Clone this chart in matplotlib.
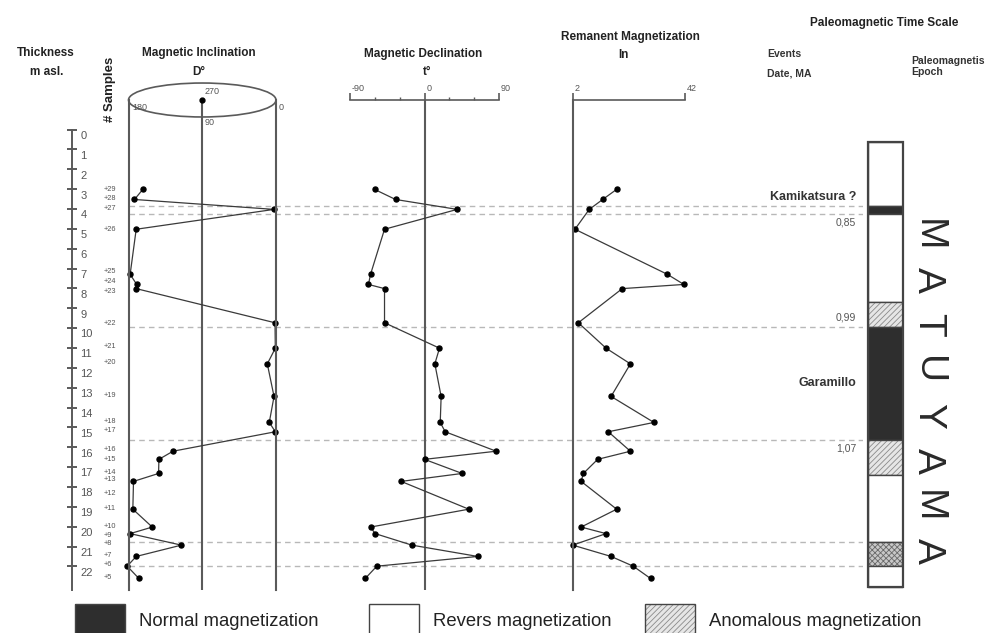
import numpy as np
import matplotlib
matplotlib.use("Agg")
import matplotlib.pyplot as plt
from matplotlib.patches import Ellipse, Rectangle
from matplotlib.transforms import blended_transform_factory

plt.rcParams['font.family'] = ['Liberation Sans', 'DejaVu Sans']
plt.rcParams['hatch.linewidth'] = 0.6

# ---- data (depth in m) ----
sample_no = [29, 28, 27, 26, 25, 24, 23, 22, 21, 20, 19, 18, 17, 16, 15,
             14, 13, 12, 11, 10, 9, 8, 7, 6, 5]
depth = [2.74, 3.25, 3.75, 4.75, 7.02, 7.53, 7.74, 9.46, 10.74, 11.53, 13.17,
         14.48, 14.95, 15.93, 16.34, 17.05, 17.45, 18.13, 18.85, 19.75,
         20.08, 20.66, 21.23, 21.72, 22.34]
# where the "+n" sample labels sit (they are spread a little where crowded)
label_depth = [2.74, 3.22, 3.69, 4.75, 6.88, 7.36, 7.89, 9.48, 10.67, 11.47,
               13.13, 14.44, 14.91, 15.83, 16.34, 16.99, 17.35, 18.08, 18.81,
               19.73, 20.15, 20.60, 21.18, 21.66, 22.28]
nan = np.nan
inclination = [162.5, 172.7, 2.4, 170.6, 178, 170, 170.6, 1.2, 0.8, 10.6, 2.4,
               8.2, 0.8, 125.7, 142.9, 143.3, 173.9, nan, 174.7, 151, 178,
               115.5, 170.6, 181.6, 167.3]
declination = [-60.4, -35, 39.5, -48.3, -65.2, -67.7, -48.3, -48.3, 18.1,
               12.5, 20.1, 19, 25, 86.6, 0, 45.5, -28.2, nan, 53.5, -65.2,
               -59.6, -15.3, 64.4, -57.6, -71.6]
remanent = [17.6, 12.6, 7.8, 2.7, 35.7, 41.6, 19.6, 3.9, 13.8, 22.5, 15.6,
            30.9, 14.6, 22.5, 10.8, 5.7, 4.9, nan, 17.6, 4.9, 13.8, 1.9,
            15.6, 23.5, 29.7]

depth_labels = list(range(0, 23))
depth_ticks = [k - 0.27 for k in range(0, 23)]

# paleomagnetic column
col_bounds = [0.34, 3.6, 4.0, 8.42, 9.68, 15.38, 17.14, 20.5, 21.7, 22.78]
col_polarity = ['R', 'N', 'R', 'A', 'N', 'A', 'R', 'X', 'R']
event_lines = [3.6, 4.0, 9.68, 15.38, 20.5, 21.7]
event_names = ['Kamikatsura ?', 'Garamillo']
event_name_depth = [3.12, 12.49]
event_dates = ['0,85', '0,99', '1,07']
event_date_depth = [4.43, 9.22, 15.77]
epoch_name = 'MATUYAMA'

W, H = 997, 633
TOP, BOT = 100, 590          # pixel rows of panel top / bottom
D_TOP, D_BOT = -1.76, 22.92  # depth at those rows


def fx(px):
    return px / W


def fy(py):
    return 1 - py / H


fig = plt.figure(figsize=(W / 100, H / 100), dpi=100)


def panel(x0, x1, z=2):
    ax = fig.add_axes([fx(x0), fy(BOT), (x1 - x0) / W, (BOT - TOP) / H])
    ax.set_ylim(D_BOT, D_TOP)
    ax.patch.set_alpha(0)
    for s in ax.spines.values():
        s.set_visible(False)
    ax.set_xticks([])
    ax.set_yticks([])
    ax.set_zorder(z)
    return ax


LINE = '#5a5a5a'
DATA = '#3a3a3a'
TXT = '#222222'
GRAY = '#555555'

# dashed event lines behind everything
ax_bg = panel(128.5, 863, z=0)
ax_bg.set_xlim(0, 1)
ax_bg.hlines(event_lines, 0, 1, colors='#b8b8b8', linestyles=(0, (4, 3)), lw=1)

# depth scale
ax_d = panel(40, 72)
ax_d.spines['right'].set_visible(True)
ax_d.spines['right'].set_bounds(depth_ticks[0], D_BOT)
ax_d.spines['right'].set_color(LINE)
ax_d.spines['right'].set_linewidth(1.4)
ax_d.set_yticks(depth_ticks)
ax_d.set_yticks(depth_labels, labels=[str(v) for v in depth_labels], minor=True)
ax_d.tick_params(axis='y', which='major', direction='inout', length=7, width=1.4,
                 color=LINE, left=False, right=True, labelleft=False, labelright=False)
ax_d.tick_params(axis='y', which='minor', length=0, left=False, right=True,
                 labelleft=False, labelright=True, pad=6, labelsize=8, labelcolor=GRAY)

# inclination
ax_inc = panel(128.5, 276)
ax_inc.set_xlim(180, 0)
for s in ('left', 'right'):
    ax_inc.spines[s].set_visible(True)
    ax_inc.spines[s].set_color(LINE)
    ax_inc.spines[s].set_linewidth(1.5)
ax_inc.axvline(90, color=LINE, lw=1.5)
ax_inc.add_patch(Ellipse((90, D_TOP), 180, 1.71, fill=False, ec=LINE, lw=1.2,
                         clip_on=False))
ax_inc.plot([90], [D_TOP], 'o', color='k', ms=3.5, clip_on=False)
fig.text(fx(132), fy(107), '180', fontsize=6.5, color=GRAY, va='center')
fig.text(fx(205), fy(92), '270', fontsize=6.5, color=GRAY, va='center')
fig.text(fx(279), fy(107), '0', fontsize=6.5, color=GRAY, va='center')
fig.text(fx(205), fy(122), '90', fontsize=6.5, color=GRAY, va='center')

dep = np.array(depth)
inc = np.array(inclination)
dec = np.array(declination)
rem = np.array(remanent)
ok = ~np.isnan(inc)

style = dict(color=DATA, lw=0.9, marker='o', ms=3.6, mfc='k', mec='k',
             clip_on=False)
ax_inc.plot(inc[ok], dep[ok], **style)

tr = blended_transform_factory(fig.transFigure, ax_inc.transData)
for n, d in zip(sample_no, label_depth):
    ax_inc.text(fx(104), d, '+' + str(n), transform=tr, fontsize=5.3,
                color=GRAY, va='center', ha='left')

# declination
ax_dec = panel(350, 499)
ax_dec.set_xlim(-90, 90)
ax_dec.spines['top'].set_visible(True)
ax_dec.spines['top'].set_color(LINE)
ax_dec.spines['top'].set_linewidth(1.2)
ax_dec.xaxis.set_ticks_position('top')
ax_dec.set_xticks([-90, 0, 90])
ax_dec.set_xticks([-60, -30, 30, 60], minor=True)
ax_dec.tick_params(axis='x', which='major', direction='out', length=5, width=1.2,
                   color=LINE, labeltop=False, labelbottom=False)
ax_dec.tick_params(axis='x', which='minor', direction='out', length=2.5, width=1,
                   color=LINE)
ax_dec.axvline(0, color=LINE, lw=1.5)
for v in [-90, 0, 90]:
    ax_dec.annotate(str(v), (v, D_TOP), xytext=(1.2, 8), textcoords='offset points',
                    fontsize=6.5, color=GRAY, va='center', ha='left')
ax_dec.plot(dec[ok], dep[ok], **style)

# remanent magnetization
ax_rem = panel(573, 685)
ax_rem.set_xlim(2, 42)
for s in ('top', 'left'):
    ax_rem.spines[s].set_visible(True)
    ax_rem.spines[s].set_color(LINE)
ax_rem.spines['top'].set_linewidth(1.2)
ax_rem.spines['left'].set_linewidth(1.5)
ax_rem.xaxis.set_ticks_position('top')
ax_rem.set_xticks([2, 42])
ax_rem.tick_params(axis='x', direction='out', length=5, width=1.2, color=LINE,
                   labeltop=False, labelbottom=False)
for v in [2, 42]:
    ax_rem.annotate(str(v), (v, D_TOP), xytext=(1.2, 8), textcoords='offset points',
                    fontsize=6.5, color=GRAY, va='center', ha='left')
ax_rem.plot(rem[ok], dep[ok], **style)

# paleomagnetic column
ax_col = panel(868, 903)
ax_col.set_xlim(-0.5, 0.5)
fills = {'N': dict(color='#2e2e2e', hatch=None, ec='#2e2e2e'),
         'R': dict(color='white', hatch=None, ec='white'),
         'A': dict(color='#e6e6e6', hatch='//////', ec='#8a8a8a'),
         'X': dict(color='#c8c8c8', hatch='xxxxxx', ec='#6a6a6a')}
for top, bot, p in zip(col_bounds[:-1], col_bounds[1:], col_polarity):
    f = fills[p]
    ax_col.bar(0, bot - top, bottom=top, width=1, color=f['color'],
               edgecolor=f['ec'], hatch=f['hatch'], lw=0)
    ax_col.bar(0, bot - top, bottom=top, width=1, color='none',
               edgecolor='#444444', lw=1)
ax_col.add_patch(Rectangle((-0.5, col_bounds[0]), 1, col_bounds[-1] - col_bounds[0],
                           fill=False, ec='#444444', lw=1.6, clip_on=False))

trc = blended_transform_factory(fig.transFigure, ax_col.transData)
for name, d in zip(event_names, event_name_depth):
    ax_col.text(fx(856), d, name, transform=trc, ha='right', va='center',
                fontsize=9, fontweight='bold', color='#333')
for lab, d in zip(event_dates, event_date_depth):
    ax_col.text(fx(856), d, lab, transform=trc, ha='right', va='center',
                fontsize=7.5, color=GRAY)

# epoch name, one letter after another down the column
letter_y = np.linspace(235, 551, len(epoch_name))
for ch, py in zip(epoch_name, letter_y):
    fig.text(fx(928), fy(py), ch, rotation=-90, fontsize=28, ha='center',
             va='center', color='#2a2a2a')

# headers
hb = dict(fontsize=8.5, fontweight='bold', color=TXT, ha='center', va='center')
fig.text(fx(46), fy(53), 'Thickness', **hb)
fig.text(fx(47), fy(72), 'm asl.', **hb)
fig.text(fx(110), fy(89), '# Samples', rotation=90, fontsize=9.5,
         fontweight='bold', color=TXT, ha='center', va='center')
fig.text(fx(199), fy(53), 'Magnetic Inclination', **hb)
fig.text(fx(199), fy(72), 'D°', **hb)
fig.text(fx(423), fy(54), 'Magnetic Declination', **hb)
fig.text(fx(427), fy(72), 't°', **hb)
fig.text(fx(630), fy(37), 'Remanent Magnetization', **hb)
fig.text(fx(623), fy(55), 'In', **hb)
fig.text(fx(884), fy(23), 'Paleomagnetic Time Scale', **hb)
hs = dict(fontsize=7.5, fontweight='bold', color='#333', ha='left', va='center')
fig.text(fx(767), fy(54), 'Events', **hs)
fig.text(fx(767), fy(73), 'Date, MA', **hs)
fig.text(fx(911), fy(61), 'Paleomagnetis', **hs)
fig.text(fx(911), fy(72), 'Epoch', **hs)

# legend along the bottom edge
legend_items = ['Normal magnetization', 'Revers magnetization',
                'Anomalous magnetization']
legend_keys = ['N', 'R', 'A']
legend_x = [75, 369, 645]
for lab, k, x in zip(legend_items, legend_keys, legend_x):
    f = fills[k]
    fig.patches.append(Rectangle((fx(x), -0.02), 50 / W, (633 - 604) / H + 0.02,
                                 transform=fig.transFigure, facecolor=f['color'],
                                 edgecolor=f['ec'], hatch=f['hatch'], lw=0))
    fig.patches.append(Rectangle((fx(x), -0.02), 50 / W, (633 - 604) / H + 0.02,
                                 transform=fig.transFigure, facecolor='none',
                                 edgecolor='#444444', lw=1))
    fig.text(fx(x + 64), fy(621), lab, fontsize=13.3, color=TXT, ha='left',
             va='center')

fig.savefig('out.png', dpi=100)
